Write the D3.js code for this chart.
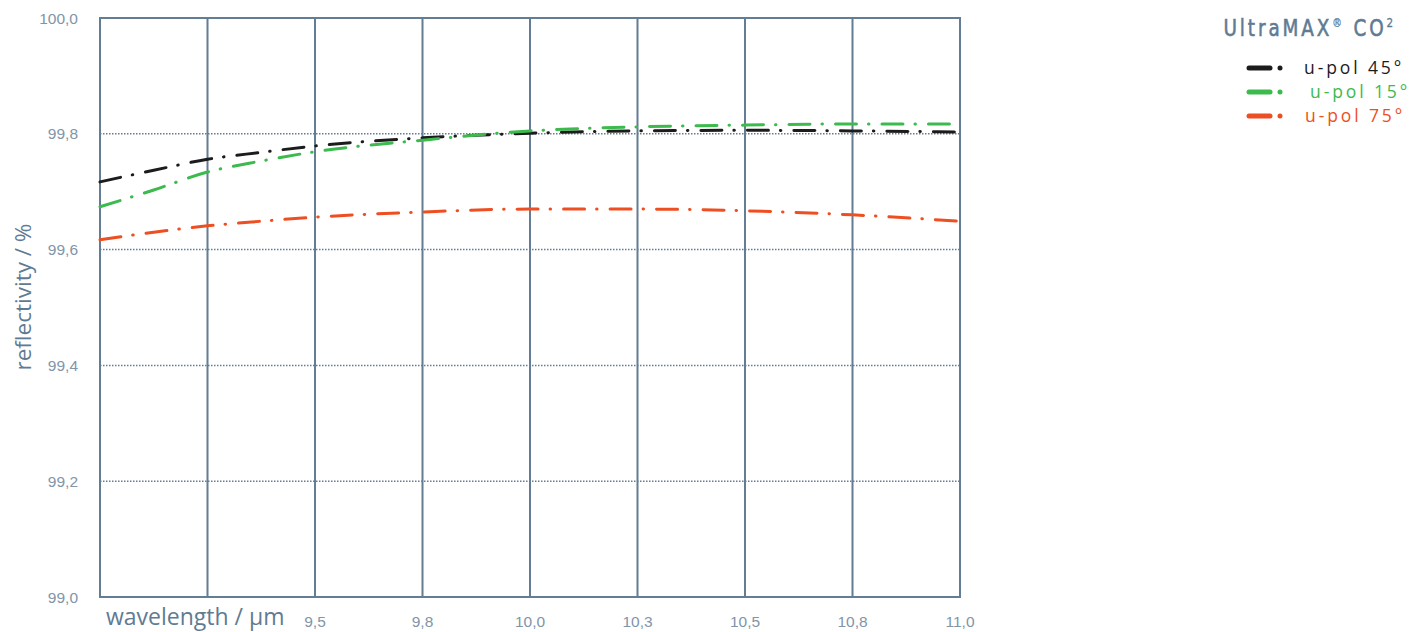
<!DOCTYPE html>
<html><head><meta charset="utf-8">
<script src="https://cdn.jsdelivr.net/npm/d3@7"></script>
<style>body{margin:0;background:#fff}svg{display:block}</style>
</head><body><svg id="c" width="1410" height="632"></svg>
<script>
const wavelengths = [9.0, 9.125, 9.25, 9.375, 9.5, 9.75, 10.0, 10.25, 10.5, 10.75, 11.0];
const pol45 = [99.717, 99.737, 99.756, 99.768, 99.779, 99.793, 99.801, 99.805, 99.806, 99.805, 99.803];
const pol15 = [99.674, 99.703, 99.734, 99.753, 99.769, 99.789, 99.805, 99.812, 99.815, 99.817, 99.817];
const pol75 = [99.617, 99.630, 99.641, 99.649, 99.656, 99.665, 99.670, 99.670, 99.667, 99.660, 99.649];
const xTicks = [9.0, 9.25, 9.5, 9.75, 10.0, 10.25, 10.5, 10.75, 11.0];
const xTickLabels = ["", "", "9,5", "9,8", "10,0", "10,3", "10,5", "10,8", "11,0"];
const yTicks = [99.0, 99.2, 99.4, 99.6, 99.8, 100.0];
const yTickLabels = ["99,0", "99,2", "99,4", "99,6", "99,8", "100,0"];
const seriesNames = ["u-pol 45°", "u-pol 15°", "u-pol 75°"];
const seriesColors = ["#1c1c1c", "#3dba4e", "#ee4f22"];

const svg = d3.select("#c");
const axisCol = "#627d94", labelCol = "#7f95a9";
const x = d3.scaleLinear().domain([9.0, 11.0]).range([100, 960]);
const y = d3.scaleLinear().domain([99.0, 100.0]).range([597, 18]);

svg.append("g").selectAll("line").data(yTicks.filter(v => v > 99.0 && v < 100.0)).join("line")
  .attr("x1", 100).attr("x2", 960).attr("y1", d => y(d)).attr("y2", d => y(d))
  .attr("stroke", axisCol).attr("stroke-width", 1.5).attr("stroke-dasharray", "1.5 1.5");
svg.append("g").selectAll("line").data(xTicks).join("line")
  .attr("x1", d => x(d)).attr("x2", d => x(d)).attr("y1", 18).attr("y2", 597)
  .attr("stroke", axisCol).attr("stroke-width", 2);
svg.append("line").attr("x1", 99).attr("x2", 961).attr("y1", 18).attr("y2", 18).attr("stroke", axisCol).attr("stroke-width", 2);
svg.append("line").attr("x1", 99).attr("x2", 961).attr("y1", 597).attr("y2", 597).attr("stroke", axisCol).attr("stroke-width", 2);

svg.append("g").selectAll("text").data(yTicks).join("text")
  .attr("x", 78).attr("y", d => y(d) + 5.5).attr("text-anchor", "end")
  .attr("font-family", "Liberation Sans, Arial, sans-serif").attr("font-size", 15.5)
  .attr("fill", labelCol).text((d, i) => yTickLabels[i]);
svg.append("g").selectAll("text").data(xTicks).join("text")
  .attr("x", d => x(d)).attr("y", 627).attr("text-anchor", "middle")
  .attr("font-family", "Liberation Sans, Arial, sans-serif").attr("font-size", 15.5)
  .attr("fill", labelCol).text((d, i) => xTickLabels[i]);

svg.append("text").attr("x", 106).attr("y", 625)
  .attr("font-family", "Open Sans, sans-serif").attr("font-size", 23).attr("fill", "#5f7b93")
  .text("wavelength / µm");
svg.append("text").attr("transform", "translate(31,297) rotate(-90)").attr("text-anchor", "middle")
  .attr("font-family", "Open Sans, sans-serif").attr("font-size", 22.5).attr("fill", "#5f7b93")
  .text("reflectivity / %");

const allSeries = [pol45, pol15, pol75];
const line = d3.line().x((d, i) => x(wavelengths[i])).y(d => y(d)).curve(d3.curveMonotoneX);
[2, 0, 1].forEach(k => {
  svg.append("path").datum(allSeries[k]).attr("d", line)
    .attr("fill", "none").attr("stroke", seriesColors[k]).attr("stroke-width", 3)
    .attr("stroke-linecap", "round").attr("stroke-dasharray", "21 12 0.5 13");
});

svg.append("text").attr("transform", "translate(1396,36) scale(0.8,1)").attr("text-anchor", "end")
  .attr("font-family", "DejaVu Sans, sans-serif").attr("font-size", 23)
  .attr("letter-spacing", 3.6).attr("fill", "#5f7b93")
  .attr("stroke", "#5f7b93").attr("stroke-width", 0.6)
  .html("UltraMAX<tspan font-size='12' stroke-width='0.3' dy='-9'>®</tspan><tspan dy='9'> CO</tspan><tspan font-size='13' stroke-width='0.3' dy='-9'>2</tspan>");

const lg = svg.append("g");
const legendTextX = [1304, 1310, 1305];
seriesNames.forEach((name, i) => {
  const yy = 68 + i * 24;
  lg.append("line").attr("x1", 1249).attr("x2", 1270).attr("y1", yy).attr("y2", yy)
    .attr("stroke", seriesColors[i]).attr("stroke-width", 5).attr("stroke-linecap", "round");
  lg.append("circle").attr("cx", 1280).attr("cy", yy).attr("r", 2.5).attr("fill", seriesColors[i]);
  lg.append("text").attr("x", legendTextX[i]).attr("y", yy + 6)
    .attr("font-family", "Open Sans, sans-serif").attr("font-size", 17.5)
    .attr("letter-spacing", 2.9).attr("fill", seriesColors[i]).text(name);
});
</script></body></html>
